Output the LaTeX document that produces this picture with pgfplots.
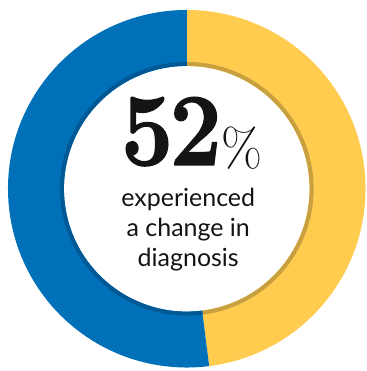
\documentclass[border=0pt]{standalone}
\usepackage{fontspec}
\setsansfont{Lato}
\newfontfamily\numfont[FakeBold=1.6]{Latin Modern Roman}
\usepackage{graphicx}
\usepackage{pgfplots}
\usepackage{pgfplotstable}
\pgfplotsset{compat=1.18}
\definecolor{cblue}{RGB}{0,112,184}
\definecolor{cblueD}{RGB}{0,88,148}
\definecolor{cyellow}{RGB}{255,204,80}
\definecolor{cyellowD}{RGB}{200,160,64}
\definecolor{ctext}{RGB}{20,20,20}
\pgfplotstableread{
label value
changed 52
other 48
}\shares
\begin{document}
\begin{tikzpicture}
\begin{axis}[x=1pt,y=1pt,xmin=0,xmax=367,ymin=0,ymax=371,
  hide axis,scale only axis,clip=false,anchor=south west,at={(0,0)}]
\pgfplotstablegetelem{1}{value}\of\shares
\pgfmathsetmacro{\ang}{90-3.6*\pgfplotsretval}
% yellow (other, 48%) clockwise from top
\fill[cyellow] ([shift={(90:179pt)}]axis cs:187,182) arc[start angle=90,end angle=\ang,radius=179pt]
  -- ([shift={(\ang:123pt)}]axis cs:187,182) arc[start angle=\ang,end angle=90,radius=123pt] -- cycle;
\fill[cyellowD] ([shift={(90:127pt)}]axis cs:187,182) arc[start angle=90,end angle=\ang,radius=127pt]
  -- ([shift={(\ang:123pt)}]axis cs:187,182) arc[start angle=\ang,end angle=90,radius=123pt] -- cycle;
% blue (changed, 52%) counterclockwise from top
\pgfmathsetmacro{\angb}{\ang+360}
\fill[cblue] ([shift={(90:179pt)}]axis cs:187,182) arc[start angle=90,end angle=\angb,radius=179pt]
  -- ([shift={(\angb:123pt)}]axis cs:187,182) arc[start angle=\angb,end angle=90,radius=123pt] -- cycle;
\fill[cblueD] ([shift={(90:127pt)}]axis cs:187,182) arc[start angle=90,end angle=\angb,radius=127pt]
  -- ([shift={(\angb:123pt)}]axis cs:187,182) arc[start angle=\angb,end angle=90,radius=123pt] -- cycle;
\path (axis cs:0,0) rectangle (axis cs:367,371);
% center text
\node[anchor=base west,inner sep=0pt,text=ctext] at (axis cs:121,206)
  {\scalebox{0.9}[1]{\fontsize{103}{103}\selectfont\numfont\bfseries 5\kern-4pt2}};
\node[anchor=base west,inner sep=0pt,text=ctext] at (axis cs:222,204)
  {\fontsize{53}{53}\selectfont\%};
\node[anchor=base,inner sep=0pt,text=ctext,font=\sffamily\fontsize{25}{30}\selectfont] at (axis cs:188.5,164) {experienced};
\node[anchor=base,inner sep=0pt,text=ctext,font=\sffamily\fontsize{25}{30}\selectfont] at (axis cs:188.5,134) {a change in};
\node[anchor=base,inner sep=0pt,text=ctext,font=\sffamily\fontsize{25}{30}\selectfont] at (axis cs:188.5,104) {diagnosis};
\end{axis}
\end{tikzpicture}
\end{document}
